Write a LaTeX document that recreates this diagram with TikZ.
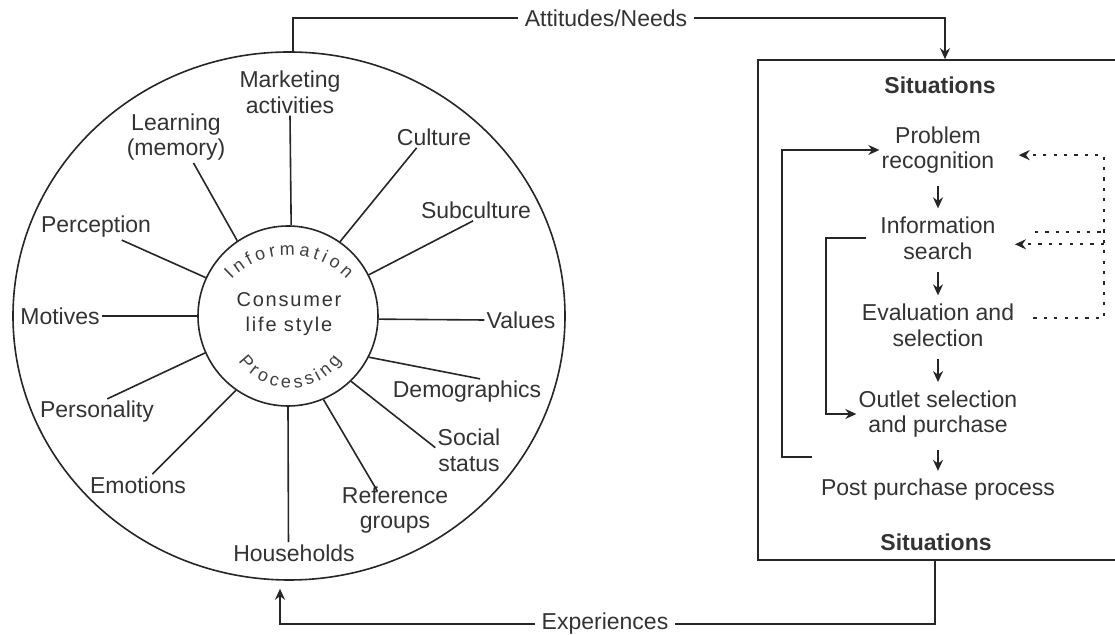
\documentclass[tikz,border=0pt]{standalone}
\usepackage{fontspec}
\setmainfont{Liberation Sans}
\newfontfamily\hubfont[LetterSpace=9]{Liberation Sans}
\usetikzlibrary{arrows.meta,shapes.geometric,decorations.text}
\newcommand\diagsize{\fontsize{11.5}{12.8}\selectfont}
\newcommand\ringtype{\fontsize{9}{9}\selectfont}
\tikzset{
    ink/.style={draw=black!85, line width=0.8pt},
    spoke/.style={ink},
    factor/.style={align=center, inner sep=1pt, text=black!80, font=\diagsize},
    stage/.style={align=center, inner sep=1pt, text=black!80, font=\diagsize},
    flow/.style={ink, -{Stealth[length=5.5pt, width=5pt]}},
    stepflow/.style={flow, shorten <=5pt, shorten >=3pt},
    cue/.style={draw=black!85, line width=1pt, dash pattern=on 1.6pt off 3.6pt},
    cuearrow/.style={cue, -{Stealth[length=5.5pt, width=5pt]}}
}

\begin{document}
\begin{tikzpicture}[x=0.5pt, y=-0.5pt]
\clip (0,0) rectangle (1115,635);

% the wheel
\node[ellipse, ink, minimum width=276pt, minimum height=264pt, inner sep=0pt] (wheel) at (289,316) {};
\node[circle, ink, minimum size=90pt, inner sep=0pt] (hub) at (288,316) {};
\node[align=center, text=black!80, inner sep=1pt,
      font=\hubfont\fontsize{10}{12.5}\selectfont] (core) at (289,314) {Consumer\\life style};
\path[decorate, decoration={text along path, text align={fit to path}, text color=black!75,
      text={|\ringtype|Information}}]
      ([shift={(-136:80)}]289,335) arc[start angle=-136, end angle=-44, radius=80];
\path[decorate, decoration={text along path, text align={fit to path}, text color=black!75,
      text={|\ringtype|Processing}}]
      ([shift={(-215:63)}]290,325) arc[start angle=-215, end angle=-325, radius=63];

\node[factor] (mkt) at (290,92) {Marketing\\activities};
\node[factor] (cult) at (434,137) {Culture};
\node[factor] (sub) at (476,210) {Subculture};
\node[factor] (val) at (521,320) {Values};
\node[factor] (dem) at (467,392) {Demographics};
\node[factor] (soc) at (469,450) {Social\\status};
\node[factor] (refg) at (395,510) {Reference\\groups};
\node[factor] (hh) at (294,553) {Households};
\node[factor] (emo) at (138,485) {Emotions};
\node[factor] (pers) at (97,412) {Personality};
\node[factor] (mot) at (60,316) {Motives};
\node[factor] (perc) at (96,227) {Perception};
\node[factor] (learn) at (176,137) {Learning\\(memory)};

\draw[spoke] (hub.88) -- (mkt.south);
\draw[spoke] (hub.55) -- (cult.-148);
\draw[spoke] (hub.27) -- (sub.-105);
\draw[spoke] (hub.-2) -- (val.west);
\draw[spoke] (hub.-27) -- (dem.45);
\draw[spoke] (hub.-46) -- (soc.176);
\draw[spoke, shorten >=-4pt] (hub.-67) -- (refg.130);
\draw[spoke] (hub.-90) -- (hh.117);
\draw[spoke] (hub.-125) -- (emo.37);
\draw[spoke] (hub.-156) -- (pers.52);
\draw[spoke] (hub.180) -- (mot.east);
\draw[spoke] (hub.155) -- (perc.-27);
\draw[spoke] (hub.124) -- (learn.-56);

% decision process
\node[ink, minimum width=187pt, minimum height=250pt, inner sep=0pt] (sitbox) at (945,310) {};
\node[stage, font=\diagsize\bfseries] (sittop) at (940,85) {Situations};
\node[stage] (prob) at (938,150) {Problem\\recognition};
\node[stage] (info) at (938,238) {Information\\search};
\node[stage] (eval) at (938,325) {Evaluation and\\selection};
\node[stage] (outl) at (938,414) {Outlet selection\\and purchase};
\node[stage] (post) at (938,490) {Post purchase process};
\node[stage, font=\diagsize\bfseries] (sitbot) at (936,542) {Situations};

\draw[stepflow] (prob) -- (info);
\draw[stepflow] (info) -- (eval);
\draw[stepflow] (eval) -- (outl);
\draw[stepflow] (outl) -- (post);

\coordinate (postback) at (812,457);
\draw[flow] (postback) -- ++(-30,0) |- (prob.west);
\draw[flow, shorten <=6pt] (info.west) -- ++(-52,0) |- (outl.west);

\coordinate (rail) at (1104,0);
\draw[cuearrow, shorten <=8.5pt, shorten >=11pt] (eval.5) -- (eval.5 -| rail) -- (prob.-5 -| rail) -- (prob.-5);
\draw[cuearrow, shorten >=8.5pt] (info.-6 -| rail) -- (info.-6);
\draw[cue, shorten <=18.5pt] (info.6) -- (info.6 -| rail);

% links between the two parts
\node[factor, inner sep=3pt] (att) at (606,18) {Attitudes/Needs};
\node[factor, inner sep=3pt] (exp) at (605,624) {Experiences};
\draw[ink] ([xshift=2pt]wheel.north) |- (att.west);
\draw[flow] (att.east) -| (sitbox.north);
\draw[ink] ([xshift=-5pt]sitbox.south) |- (exp.east);
\draw[flow, shorten >=4pt] (exp.west) -| ([xshift=-4.5pt]wheel.south);
\end{tikzpicture}
\end{document}
